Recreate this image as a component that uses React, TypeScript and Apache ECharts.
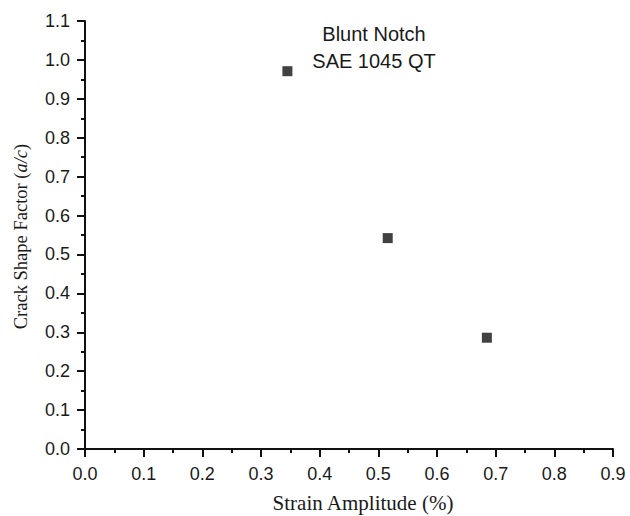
import React, { useEffect, useRef } from "react";
import * as echarts from "echarts";

const strainAmplitude = [0.345, 0.516, 0.685];
const shapeFactor = [0.971, 0.542, 0.286];
const annotationLines = ["Blunt Notch", "SAE 1045 QT"];
const xTitle = "Strain Amplitude (%)";
const yTitlePre = "Crack Shape Factor (";
const yTitleItalic = "a/c";
const yTitlePost = ")";

const SANS = "'Liberation Sans', Arial, Helvetica, sans-serif";
const SERIF = "'Liberation Serif', 'Times New Roman', serif";

export default function App() {
  const ref = useRef<HTMLDivElement>(null);
  useEffect(() => {
    if (!ref.current) return;
    const chart = echarts.init(ref.current, undefined, { renderer: "svg" });
    const axisCommon = {
      axisLine: { show: true, onZero: false, lineStyle: { color: "#111", width: 2 } },
      axisTick: { show: true, inside: false, length: 8, lineStyle: { color: "#111", width: 2 } },
      minorTick: { show: true, splitNumber: 2, length: 4, lineStyle: { color: "#111", width: 2 } },
      splitLine: { show: false },
      axisLabel: {
        color: "#1a1a1a",
        fontFamily: SANS,
        fontSize: 18,
        formatter: (v: number) => v.toFixed(1),
      },
    };
    chart.setOption({
      animation: false,
      backgroundColor: "#fff",
      grid: { left: 85, right: 17, top: 21, bottom: 67, containLabel: false },
      xAxis: {
        type: "value",
        min: 0,
        max: 0.9,
        interval: 0.1,
        ...axisCommon,
        axisLabel: { ...axisCommon.axisLabel, margin: 16, showMaxLabel: true },
      },
      yAxis: {
        type: "value",
        min: 0,
        max: 1.1,
        interval: 0.1,
        ...axisCommon,
        axisLabel: { ...axisCommon.axisLabel, margin: 15, showMaxLabel: true },
      },
      series: [
        {
          type: "scatter",
          data: strainAmplitude.map((x, i) => [x, shapeFactor[i]]),
          symbol: "rect",
          symbolSize: 10,
          itemStyle: { color: "#111" },
        },
      ],
      graphic: [
        {
          type: "text",
          x: 374,
          y: 34,
          style: {
            text: annotationLines[0],
            font: `20px ${SANS}`,
            fill: "#1a1a1a",
            textAlign: "center",
            textVerticalAlign: "middle",
          },
        },
        {
          type: "text",
          x: 374,
          y: 60.5,
          style: {
            text: annotationLines[1],
            font: `20px ${SANS}`,
            fill: "#1a1a1a",
            textAlign: "center",
            textVerticalAlign: "middle",
          },
        },
        {
          type: "text",
          x: 363,
          y: 503,
          style: {
            text: xTitle,
            font: `21px ${SERIF}`,
            fill: "#1a1a1a",
            textAlign: "center",
            textVerticalAlign: "middle",
          },
        },
        {
          type: "text",
          x: 21,
          y: 236.5,
          rotation: Math.PI / 2,
          style: {
            text: `{n|${yTitlePre}}{i|${yTitleItalic}}{n|${yTitlePost}}`,
            textAlign: "center",
            textVerticalAlign: "middle",
            fill: "#1a1a1a",
            rich: {
              n: { fontFamily: SERIF, fontSize: 18.5, color: "#1a1a1a" },
              i: { fontFamily: SERIF, fontSize: 18.5, fontStyle: "italic", color: "#1a1a1a" },
            },
          },
        },
      ],
    });
    return () => chart.dispose();
  }, []);
  return (
    <div
      ref={ref}
      style={{ position: "fixed", left: 0, top: 0, width: 630, height: 516 }}
    />
  );
}
